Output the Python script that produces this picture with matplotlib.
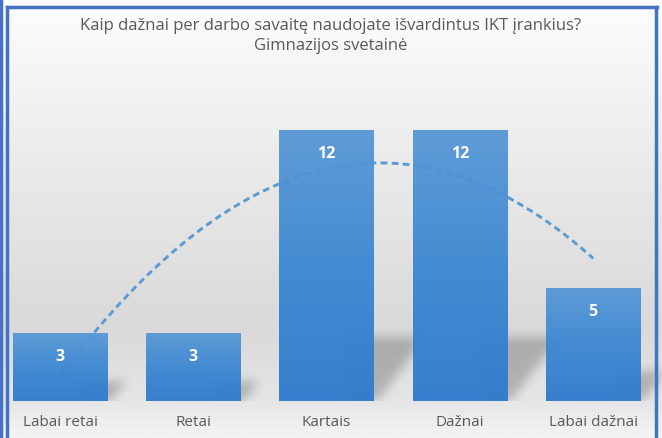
import numpy as np
import matplotlib.pyplot as plt
from matplotlib.colors import LinearSegmentedColormap
from matplotlib.path import Path
from matplotlib.lines import Line2D

categories = ['Labai retai', 'Retai', 'Kartais', 'Dažnai', 'Labai dažnai']
counts = [3, 3, 12, 12, 5]
title = 'Kaip dažnai per darbo savaitę naudojate išvardintus IKT įrankius?\nGimnazijos svetainė'

plt.rcParams['font.family'] = ['Open Sans', 'DejaVu Sans']

fig = plt.figure(figsize=(6.62, 4.39), dpi=100)
ax = fig.add_axes([0, 0, 1, 1])
x = np.arange(len(categories))
x0, x1, y0, y1 = -0.45, 4.516, -1.64, 17.8
ax.set_xlim(x0, x1)
ax.set_ylim(y0, y1)
ax.axis('off')

# background gradient (bottom -> top)
bg = LinearSegmentedColormap.from_list('bg', [(0, '#f4f4f4'), (0.08, '#e6e6e6'), (0.25, '#d9d9d9'),
                                              (0.55, '#e7e7e7'), (1, '#fdfdfd')])
grad = np.linspace(0, 1, 256).reshape(-1, 1)
ax.imshow(grad, cmap=bg, origin='lower', aspect='auto', extent=[0, 1, 0, 1],
          transform=ax.transAxes, zorder=0)

# blurred floor shadows, built on a pixel grid in data coords
w = 0.71
gx, gy = np.meshgrid(np.linspace(x0, x1, 662), np.linspace(y0, y1, 439))
pts = np.column_stack([gx.ravel(), gy.ravel()])
mask = np.zeros(gx.shape)
for xi, h in zip(x, counts):
    xr = xi + w / 2
    sh = 0.22 * h + 0.2
    dx = 0.127 * sh
    shape = Path([(xr - 0.2, 0), (xr - 0.2, sh), (xr + 0.03 + dx, sh), (xr + 0.03, 0)])
    mask = np.maximum(mask, shape.contains_points(pts).reshape(gx.shape).astype(float))
k = np.exp(-0.5 * (np.arange(-15, 16) / 5.0) ** 2)
k /= k.sum()
mask = np.apply_along_axis(lambda r: np.convolve(r, k, mode='same'), 1, mask)
mask = np.apply_along_axis(lambda c: np.convolve(c, k, mode='same'), 0, mask)
mask[gy < 0] = 0
shadow = np.zeros(gx.shape + (4,))
shadow[..., 3] = mask * 0.22
ax.imshow(shadow, origin='lower', aspect='auto', extent=[x0, x1, y0, y1], zorder=1)

# quadratic trend line
coef = np.polyfit(x, counts, 2)
xs = np.linspace(x[0], x[-1], 200)
ax.plot(xs, np.polyval(coef, xs), color='#5b9bd5', lw=2.1, ls=(0, (2.3, 1.5)), zorder=2)

# bars with vertical gradient
bar_cmap = LinearSegmentedColormap.from_list('bar', ['#2e7bcd', '#3d88d2', '#5898d6'])
bars = ax.bar(x, counts, width=w, color='none', edgecolor='none', zorder=3)
for b in bars:
    im = ax.imshow(grad, cmap=bar_cmap, origin='lower', aspect='auto', alpha=0.96,
                   extent=[b.get_x(), b.get_x() + b.get_width(), 0, b.get_height()], zorder=3)
    im.set_clip_path(b)

for xi, h, name in zip(x, counts, categories):
    ax.text(xi, h - 1.0, str(h), ha='center', va='center', color='white',
            fontsize=11.5, fontweight='bold', zorder=4)
    ax.text(xi, -0.92, name, ha='center', va='center', color='#595959', fontsize=11, zorder=4)

fig.text(0.5, 0.918, title, ha='center', va='center', color='#595959', fontsize=12,
         linespacing=1.4)

# frame lines
fig.add_artist(Line2D([0.002, 0.002], [0, 1], color='#4472c4', lw=2.5))
fig.add_artist(Line2D([0.011, 0.011], [0, 0.982], color='#4472c4', lw=2.5))
fig.add_artist(Line2D([0.011, 0.992], [0.981, 0.981], color='#4472c4', lw=2.5))
fig.add_artist(Line2D([0.991, 0.991], [0, 0.982], color='#4472c4', lw=2.5))

fig.savefig('out.png', dpi=100)
